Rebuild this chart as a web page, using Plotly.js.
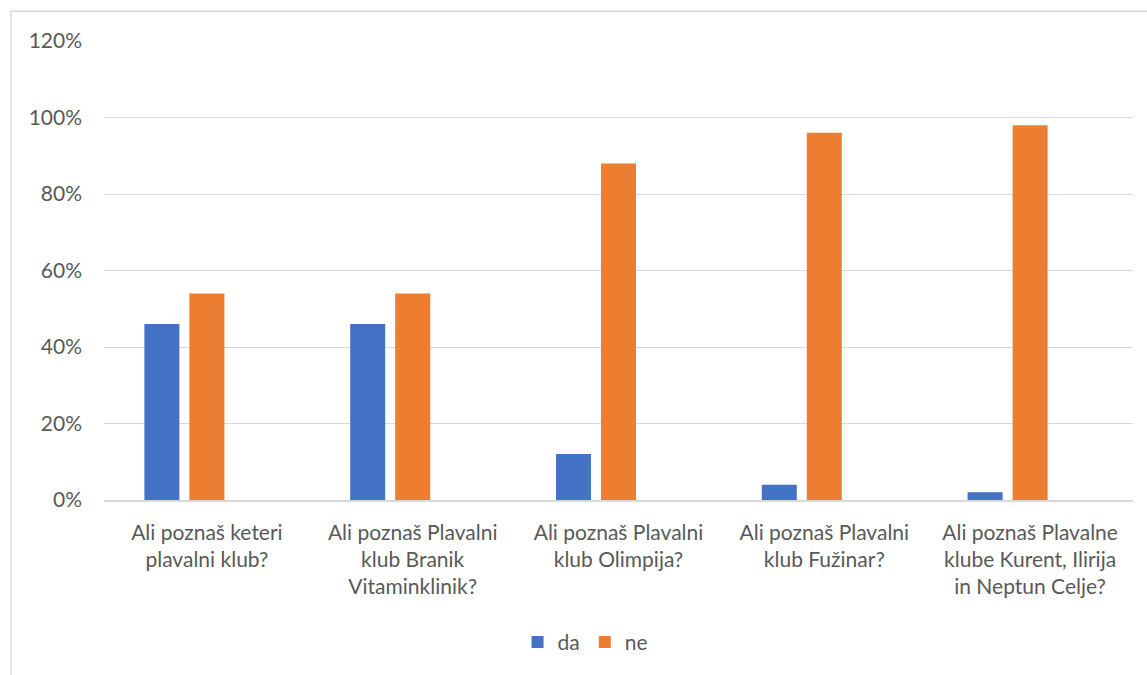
<!DOCTYPE html>
<html>
<head>
<meta charset="utf-8">
<script src="https://cdn.plot.ly/plotly-3.0.1.min.js"></script>
<style>html,body{margin:0;padding:0;background:#fff;}#chart{width:1147px;height:675px;}</style>
</head>
<body>
<div id="chart"></div>
<script>
const categories = [
  "Ali poznaš keteri<br>plavalni klub?",
  "Ali poznaš Plavalni<br>klub Branik<br>Vitaminklinik?",
  "Ali poznaš Plavalni<br>klub Olimpija?",
  "Ali poznaš Plavalni<br>klub Fužinar?",
  "Ali poznaš Plavalne<br>klube Kurent, Ilirija<br>in Neptun Celje?"
];
const daValues = [0.46, 0.46, 0.12, 0.04, 0.02];
const neValues = [0.54, 0.54, 0.88, 0.96, 0.98];
const emptyValues = [0, 0, 0, 0, 0];
const yTicks = [0, 0.2, 0.4, 0.6, 0.8, 1.0, 1.2];
const yTickLabels = ["0%", "20%", "40%", "60%", "80%", "100%", "120%"];

const traces = [
  {type: 'bar', name: 'da', x: categories, y: daValues, marker: {color: '#4472C4'}, hoverinfo: 'none'},
  {type: 'bar', name: 'ne', x: categories, y: neValues, marker: {color: '#ED7D31'}, hoverinfo: 'none'},
  {type: 'bar', name: '', x: categories, y: emptyValues, marker: {color: '#A5A5A5'}, showlegend: false, hoverinfo: 'none'}
];

const font = {family: 'Lato, Open Sans, sans-serif', color: '#595959', size: 21};

const layout = {
  width: 1147, height: 675,
  margin: {l: 104, r: 14, t: 41, b: 173},
  paper_bgcolor: '#fff', plot_bgcolor: '#fff',
  barmode: 'group', bargap: 0.344, bargroupgap: 0.222,
  font: font,
  showlegend: true,
  legend: {orientation: 'h', x: 0.468, xanchor: 'center', y: -0.31, yanchor: 'middle', font: {family: font.family, color: '#595959', size: 21}, itemwidth: 30, traceorder: 'normal'},
  xaxis: {type: 'category', showgrid: false, showline: true, linecolor: '#D9D9D9', linewidth: 1.5, ticks: '', tickfont: font, ticklabelstandoff: 13, automargin: false},
  yaxis: {range: [0, 1.2], tickvals: yTicks, ticktext: yTickLabels, showgrid: true, gridcolor: '#D9D9D9', gridwidth: 1, zeroline: false, showline: false, ticks: '', tickfont: font, ticklabelstandoff: 21, automargin: false},
  shapes: [
    {type: 'path', xref: 'paper', yref: 'paper', path: 'M 1.02,1.065 L -0.0904,1.065 L -0.0904,-0.4', line: {color: '#D9D9D9', width: 1.5}}
  ]
};

Plotly.newPlot('chart', traces, layout, {staticPlot: true});
</script>
</body>
</html>
